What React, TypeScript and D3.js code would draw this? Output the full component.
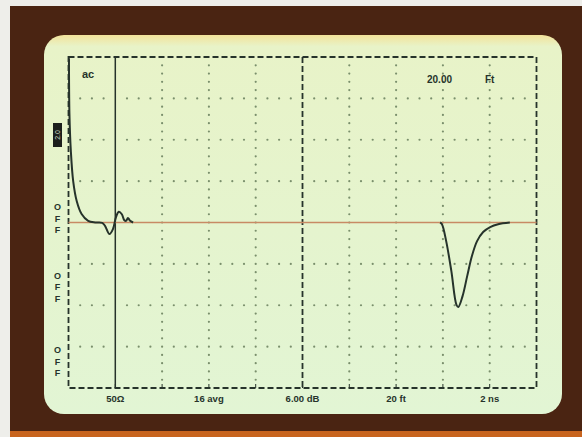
import * as d3 from 'd3';
import { useEffect, useRef } from 'react';

const WIDTH = 582, HEIGHT = 437;

// trace, in divisions (x: 0..10, y: -4..4)
const reflT = [0.01, 0.02, 0.05, 0.1, 0.175, 0.28, 0.42, 0.57, 0.72, 0.78, 0.876, 0.95, 1.015, 1.075, 1.14, 1.19, 1.23, 1.27, 1.31, 1.38];
const reflV = [3.97, 2.62, 1.73, 1.0, 0.52, 0.205, 0.04, 0, -0.01, -0.08, -0.28, -0.16, 0.13, 0.26, 0.2, 0.06, 0.04, 0.11, 0.05, 0];
const dipT = [7.94, 7.98, 8.07, 8.18, 8.29, 8.33, 8.42, 8.52, 8.62, 8.73, 8.86, 9.01, 9.18, 9.43];
const dipV = [0, -0.04, -0.45, -1.17, -1.99, -2.04, -1.78, -1.29, -0.81, -0.45, -0.23, -0.11, -0.04, 0];

const bottomLabels = ['50Ω', '16 avg', '6.00 dB', '20 ft', '2 ns'];
const bottomAt = [1, 3, 5, 7, 9];
const sideLabels = ['OFF', 'OFF', 'OFF'];
const sideAt = [0.1, -1.55, -3.35];

const INK = '#26332b';
const DOT = '#7a8f6c';

const Scope = () => {
    const ref = useRef<SVGSVGElement>(null);

    useEffect(() => {
        const svg = d3.select(ref.current);
        svg.selectAll('*').remove();

        const x = d3.scaleLinear().domain([0, 10]).range([68.5, 536.5]);
        const y = d3.scaleLinear().domain([-4, 4]).range([388, 57]);

        // photo backdrop
        svg.append('rect').attr('width', WIDTH).attr('height', HEIGHT).attr('fill', '#eeeeea');
        svg.append('rect').attr('x', 10).attr('y', 6).attr('width', WIDTH - 10).attr('height', HEIGHT - 6).attr('fill', '#c8641e');
        svg.append('rect').attr('x', 10).attr('y', 6).attr('width', WIDTH - 10).attr('height', 425).attr('fill', '#4a2412');

        const defs = svg.append('defs');
        const grad = defs.append('linearGradient').attr('id', 'scr').attr('x1', 0).attr('y1', 0).attr('x2', 0).attr('y2', 1);
        grad.append('stop').attr('offset', '0%').attr('stop-color', '#f2e29a');
        grad.append('stop').attr('offset', '3%').attr('stop-color', '#e8f3c8');
        grad.append('stop').attr('offset', '100%').attr('stop-color', '#e2f5d4');

        svg.append('rect')
            .attr('x', 44).attr('y', 35).attr('width', 518).attr('height', 379)
            .attr('rx', 20).attr('fill', 'url(#scr)');

        const g = svg.append('g');

        // dotted grid rows
        d3.range(-3, 4).forEach(r => {
            if (r === 0) return;
            g.append('g').selectAll('circle')
                .data(d3.range(1, 40).filter(i => i % 4 !== 0))
                .enter().append('circle')
                .attr('cx', i => x(i / 4)).attr('cy', y(r)).attr('r', 1.1).attr('fill', DOT);
        });
        // dotted grid columns
        d3.range(1, 10).forEach(c => {
            if (c === 1 || c === 5) return;
            g.append('g').selectAll('circle')
                .data(d3.range(1, 40))
                .enter().append('circle')
                .attr('cx', x(c)).attr('cy', i => y(-4 + i / 5)).attr('r', 1.1).attr('fill', DOT);
        });

        // border
        g.append('rect')
            .attr('x', x(0)).attr('y', y(4)).attr('width', x(10) - x(0)).attr('height', y(-4) - y(4))
            .attr('fill', 'none').attr('stroke', INK).attr('stroke-width', 1.8).attr('stroke-dasharray', '6,3');

        // center dashed line and cursor
        g.append('line').attr('x1', x(5)).attr('x2', x(5)).attr('y1', y(4)).attr('y2', y(-4))
            .attr('stroke', INK).attr('stroke-width', 1.8).attr('stroke-dasharray', '6,3');
        g.append('line').attr('x1', x(1)).attr('x2', x(1)).attr('y1', y(4)).attr('y2', y(-4))
            .attr('stroke', INK).attr('stroke-width', 1.5);

        // bottom ticks
        g.append('g').selectAll('line').data(d3.range(1, 10)).enter().append('line')
            .attr('x1', d => x(d)).attr('x2', d => x(d)).attr('y1', y(-4)).attr('y2', y(-4) - 4)
            .attr('stroke', INK).attr('stroke-width', 1);

        // baseline
        g.append('line').attr('x1', x(0)).attr('x2', x(10)).attr('y1', y(0)).attr('y2', y(0))
            .attr('stroke', '#c88a64').attr('stroke-width', 1.4);

        const drawTrace = (ts: number[], vs: number[]) => {
            const l = d3.line<number>()
                .x((_, i) => x(ts[i]))
                .y(d => y(d))
                .curve(d3.curveCatmullRom.alpha(0.5));
            g.append('path').attr('d', l(vs)).attr('fill', 'none')
                .attr('stroke', INK).attr('stroke-width', 2).attr('stroke-linejoin', 'round');
        };
        drawTrace(reflT, reflV);
        drawTrace(dipT, dipV);

        const font = 'Liberation Sans, Arial, sans-serif';

        // readouts
        g.append('text').attr('x', 82).attr('y', 78).text('ac')
            .attr('font-family', font).attr('font-size', 11).attr('font-weight', 'bold').attr('fill', INK);
        g.append('text').attr('x', 427).attr('y', 83).text('20.00')
            .attr('font-family', font).attr('font-size', 10).attr('font-weight', 'bold').attr('fill', INK);
        g.append('text').attr('x', 485).attr('y', 83).text('Ft')
            .attr('font-family', font).attr('font-size', 10).attr('font-weight', 'bold').attr('fill', INK);

        g.append('g').selectAll('text').data(bottomLabels).enter().append('text')
            .attr('x', (_, i) => x(bottomAt[i])).attr('y', 402)
            .attr('text-anchor', 'middle').text(d => d)
            .attr('font-family', font).attr('font-size', 9.5).attr('font-weight', 'bold').attr('fill', INK);

        // side labels
        sideLabels.forEach((lab, k) => {
            lab.split('').forEach((ch, j) => {
                g.append('text').attr('x', 57.5).attr('y', y(sideAt[k]) - 8 + j * 11.5)
                    .attr('text-anchor', 'middle').text(ch)
                    .attr('font-family', font).attr('font-size', 9).attr('font-weight', 'bold').attr('fill', INK);
            });
        });

        // channel marker
        g.append('rect').attr('x', 53).attr('y', 123).attr('width', 9).attr('height', 24).attr('fill', '#1c1f1c');
        g.append('text').attr('transform', `translate(60,135) rotate(-90)`)
            .attr('text-anchor', 'middle').text('2.0')
            .attr('font-family', font).attr('font-size', 7).attr('fill', '#c9d6c0');
    }, []);

    return <svg ref={ref} width={WIDTH} height={HEIGHT} style={{ position: 'absolute', left: 0, top: 0 }} />;
};

export default function App() {
    return <Scope />;
}
